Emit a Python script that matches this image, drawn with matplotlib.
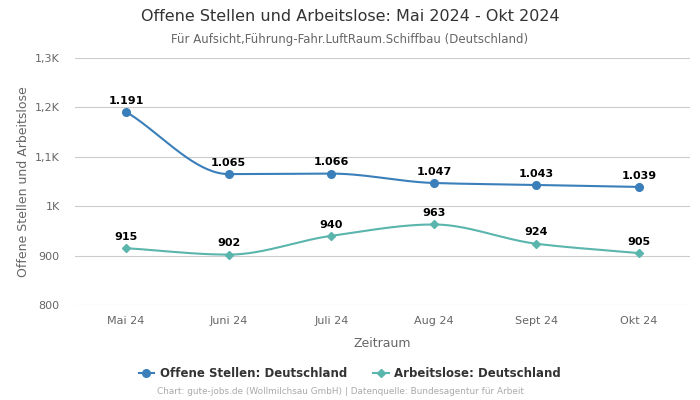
import numpy as np
import matplotlib
matplotlib.use("Agg")
import matplotlib.pyplot as plt
from matplotlib.ticker import FuncFormatter

categories = ["Mai 24", "Juni 24", "Juli 24", "Aug 24", "Sept 24", "Okt 24"]
offene = [1191, 1065, 1066, 1047, 1043, 1039]
arbeitslose = [915, 902, 940, 963, 924, 905]
offene_labels = ["1.191", "1.065", "1.066", "1.047", "1.043", "1.039"]
arbeitslose_labels = ["915", "902", "940", "963", "924", "905"]

BLUE = "#3a7fba"
TEAL = "#5ab5ad"


def monotone(x, y, n=40):
    x = np.asarray(x, float); y = np.asarray(y, float)
    h = np.diff(x); d = np.diff(y) / h
    m = np.zeros_like(y)
    m[0] = d[0]; m[-1] = d[-1]
    for i in range(1, len(y) - 1):
        if d[i - 1] * d[i] <= 0:
            m[i] = 0
        else:
            w1 = 2 * h[i] + h[i - 1]; w2 = h[i] + 2 * h[i - 1]
            m[i] = (w1 + w2) / (w1 / d[i - 1] + w2 / d[i])
    xs, ys = [], []
    for i in range(len(x) - 1):
        t = np.linspace(0, 1, n)
        h00 = 2 * t**3 - 3 * t**2 + 1; h10 = t**3 - 2 * t**2 + t
        h01 = -2 * t**3 + 3 * t**2; h11 = t**3 - t**2
        xs.append(x[i] + t * h[i])
        ys.append(h00 * y[i] + h10 * h[i] * m[i] + h01 * y[i + 1] + h11 * h[i] * m[i + 1])
    return np.concatenate(xs), np.concatenate(ys)


fig = plt.figure(figsize=(7, 4), dpi=100)
ax = fig.add_axes([0.107, 0.2375, 0.879, 0.6175])
x = np.arange(len(categories))

for vals, labs, col, mk, ms in [(offene, offene_labels, BLUE, "o", 5.5), (arbeitslose, arbeitslose_labels, TEAL, "D", 3.8)]:
    sx, sy = monotone(x, vals)
    ax.plot(sx, sy, color=col, lw=1.5, zorder=3)
    ax.plot(x, vals, linestyle="none", marker=mk, color=col, ms=ms, zorder=4)
    for xi, v, l in zip(x, vals, labs):
        ax.annotate(l, (xi, v), xytext=(0, 4.5), textcoords="offset points", ha="center",
                    va="bottom", fontsize=8, fontweight="bold", color="black")

ax.set_xlim(-0.5, 5.5)
ax.set_ylim(800, 1300)
ax.set_yticks([800, 900, 1000, 1100, 1200, 1300])


def fmt(v, pos):
    if v >= 1000:
        s = f"{v/1000:.1f}".replace(".", ",")
        if s.endswith(",0"):
            s = s[:-2]
        return s + "K"
    return f"{int(v)}"


ax.yaxis.set_major_formatter(FuncFormatter(fmt))
ax.set_xticks(x)
ax.set_xticklabels(categories)
ax.grid(axis="y", color="#cccccc", lw=0.8)
ax.set_axisbelow(True)
for s in ax.spines.values():
    s.set_visible(False)
ax.tick_params(axis="both", length=0, labelsize=8, colors="#666666", pad=8)
ax.tick_params(axis="y", pad=11)
ax.set_xlabel("Zeitraum", fontsize=9, color="#666666", labelpad=8)
ax.set_ylabel("Offene Stellen und Arbeitslose", fontsize=9, color="#666666", labelpad=3.5)

fig.text(0.5, 0.958, "Offene Stellen und Arbeitslose: Mai 2024 - Okt 2024", ha="center", va="center",
         fontsize=11.5, color="#333333")
fig.text(0.5, 0.902, "Für Aufsicht,Führung-Fahr.LuftRaum.Schiffbau (Deutschland)", ha="center", va="center",
         fontsize=8.5, color="#666666")

h1, = ax.plot([], [], color=BLUE, marker="o", ms=5.5, lw=1.5)
h2, = ax.plot([], [], color=TEAL, marker="D", ms=3.8, lw=1.5)
leg = fig.legend([h1, h2], ["Offene Stellen: Deutschland", "Arbeitslose: Deutschland"], loc="center",
                 bbox_to_anchor=(0.5, 0.067), ncol=2, frameon=False, prop={"weight": "bold", "size": 8.5},
                 handlelength=1.3, columnspacing=2.2, handletextpad=0.5)
for t in leg.get_texts():
    t.set_color("#333333")
fig.text(0.486, 0.02, "Chart: gute-jobs.de (Wollmilchsau GmbH) | Datenquelle: Bundesagentur für Arbeit",
         ha="center", va="center", fontsize=6.4, color="#aaaaaa")

fig.savefig("out.png", dpi=100)
